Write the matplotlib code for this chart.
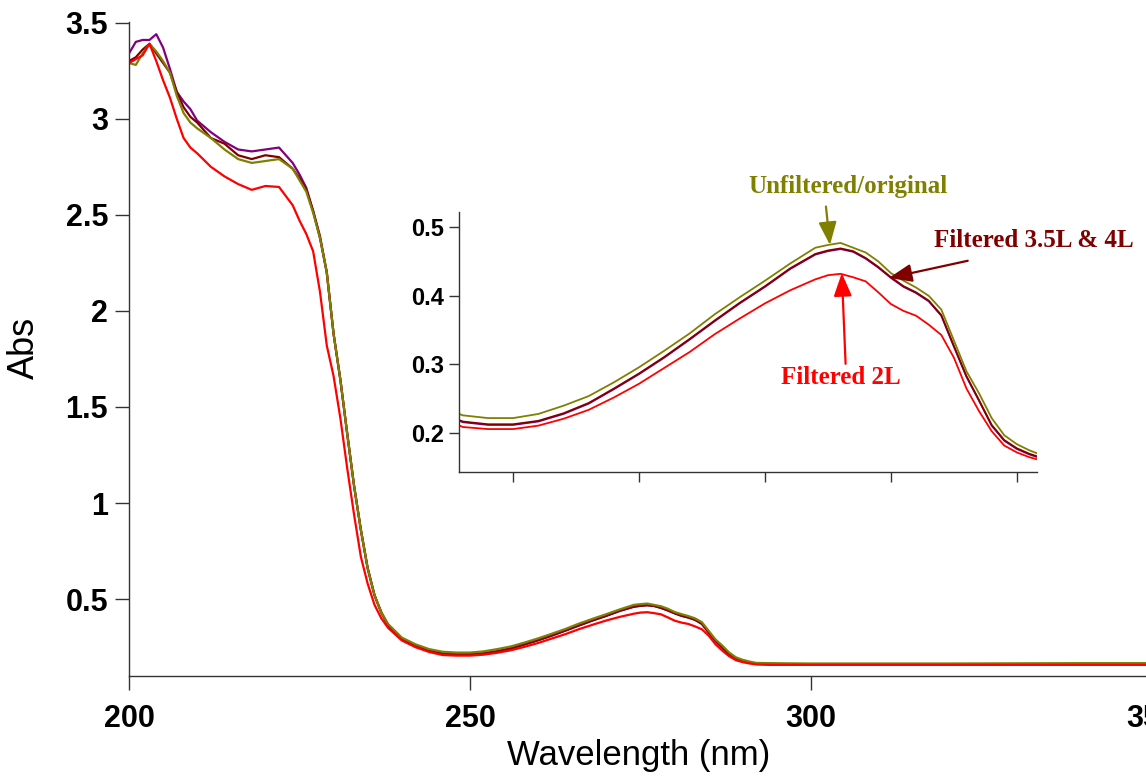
import matplotlib
matplotlib.use("Agg")
import matplotlib.pyplot as plt

# wavelength grid (nm)
wl = [200, 201, 202, 203, 204, 205, 206, 207, 208, 209, 210, 212, 214, 216, 218,
      220, 222, 224, 225, 226, 227, 228, 229, 230, 231, 232, 233, 234, 235, 236,
      237, 238, 240, 242, 244, 246, 248, 250, 252, 254, 256, 258, 260, 262, 264,
      266, 268, 270, 272, 274, 275, 276, 277, 278, 279, 280, 281, 282, 283, 284,
      285, 286, 287, 288, 289, 290, 291, 292, 294, 296, 300, 310, 320, 330, 340, 350]

# Unfiltered / original (olive)
abs_orig = [3.29, 3.28, 3.34, 3.39, 3.35, 3.30, 3.24, 3.12, 3.03, 2.98, 2.95, 2.90, 2.84, 2.79, 2.77,
            2.78, 2.79, 2.74, 2.68, 2.62, 2.51, 2.38, 2.20, 1.88, 1.64, 1.36, 1.09, 0.86, 0.66, 0.52,
            0.43, 0.37, 0.30, 0.265, 0.240, 0.226, 0.222, 0.222, 0.228, 0.240, 0.254, 0.274, 0.296, 0.320, 0.345,
            0.373, 0.398, 0.422, 0.447, 0.470, 0.474, 0.477, 0.470, 0.463, 0.450, 0.433, 0.422, 0.412, 0.400, 0.380,
            0.335, 0.290, 0.258, 0.222, 0.197, 0.184, 0.175, 0.168, 0.167, 0.166, 0.165, 0.165, 0.165, 0.166, 0.167, 0.167]

# Filtered 3.5L (maroon)
abs_35 = [3.30, 3.32, 3.36, 3.39, 3.34, 3.29, 3.24, 3.14, 3.06, 3.01, 2.98, 2.90, 2.87, 2.81, 2.79,
          2.81, 2.80, 2.74, 2.69, 2.63, 2.52, 2.38, 2.20, 1.88, 1.64, 1.36, 1.09, 0.86, 0.66, 0.52,
          0.43, 0.365, 0.295, 0.258, 0.232, 0.217, 0.213, 0.213, 0.218, 0.229, 0.244, 0.265, 0.287, 0.311, 0.337,
          0.364, 0.390, 0.414, 0.440, 0.461, 0.466, 0.469, 0.465, 0.455, 0.442, 0.427, 0.414, 0.405, 0.393, 0.372,
          0.327, 0.283, 0.248, 0.212, 0.190, 0.178, 0.170, 0.164, 0.162, 0.162, 0.162, 0.162, 0.162, 0.162, 0.162, 0.162]

# Filtered 4L (purple)
abs_4 = [3.34, 3.40, 3.41, 3.41, 3.44, 3.37, 3.26, 3.14, 3.09, 3.05, 2.99, 2.93, 2.88, 2.84, 2.83,
         2.84, 2.85, 2.77, 2.71, 2.64, 2.52, 2.39, 2.20, 1.88, 1.64, 1.36, 1.09, 0.86, 0.66, 0.52,
         0.43, 0.365, 0.295, 0.258, 0.232, 0.216, 0.212, 0.212, 0.217, 0.228, 0.243, 0.264, 0.286, 0.310, 0.336,
         0.363, 0.389, 0.413, 0.439, 0.460, 0.465, 0.468, 0.464, 0.454, 0.441, 0.426, 0.413, 0.404, 0.392, 0.371,
         0.326, 0.282, 0.247, 0.211, 0.189, 0.177, 0.169, 0.163, 0.161, 0.161, 0.161, 0.161, 0.161, 0.161, 0.161, 0.161]

# Filtered 2L (red)
abs_2 = [3.29, 3.31, 3.33, 3.39, 3.30, 3.20, 3.11, 3.00, 2.90, 2.85, 2.82, 2.75, 2.70, 2.66, 2.63,
         2.65, 2.645, 2.55, 2.47, 2.40, 2.31, 2.10, 1.82, 1.66, 1.44, 1.18, 0.94, 0.72, 0.58, 0.47,
         0.40, 0.35, 0.285, 0.250, 0.225, 0.209, 0.206, 0.206, 0.211, 0.221, 0.234, 0.252, 0.272, 0.295, 0.318,
         0.344, 0.367, 0.389, 0.408, 0.424, 0.430, 0.432, 0.427, 0.421, 0.405, 0.388, 0.378, 0.371, 0.358, 0.343,
         0.310, 0.265, 0.232, 0.203, 0.182, 0.172, 0.165, 0.160, 0.158, 0.158, 0.158, 0.158, 0.158, 0.158, 0.158, 0.158]

x_ticks = [200, 250, 300, 350]
y_ticks = [0.5, 1, 1.5, 2, 2.5, 3, 3.5]
y_tick_labels = ["0.5", "1", "1.5", "2", "2.5", "3", "3.5"]
inset_x_ticks = [250, 260, 270, 280, 290]
inset_y_ticks = [0.2, 0.3, 0.4, 0.5]
inset_y_labels = ["0.2", "0.3", "0.4", "0.5"]

series = [
    (abs_4, "#800080"),
    (abs_35, "#800000"),
    (abs_orig, "#808000"),
    (abs_2, "#ff0000"),
]

plt.rcParams['font.family'] = ['Liberation Sans', 'DejaVu Sans']

fig = plt.figure(figsize=(11.46, 7.8), dpi=100)
W, H = 1146, 780

def px_axes(l, t, r, b):
    return [l / W, 1 - b / H, (r - l) / W, (b - t) / H]

# main axes (right edge runs just past the figure so "350" gets cut)
ax = fig.add_axes(px_axes(129, 21.7, 1152, 676))
for vals, col in series:
    ax.plot(wl, vals, color=col, lw=1.6)
ax.set_xlim(200, 350)
ax.set_ylim(0.1, 3.505)
ax.set_xticks(x_ticks)
ax.set_xticklabels([str(v) for v in x_ticks])
ax.set_yticks(y_ticks)
ax.set_yticklabels(y_tick_labels)
for s in ["top", "right"]:
    ax.spines[s].set_visible(False)
for s in ["left", "bottom"]:
    ax.spines[s].set_color("#333333")
    ax.spines[s].set_linewidth(1.0)
ax.tick_params(axis="both", direction="out", length=10, width=1, color="#333333")
ax.tick_params(axis="y", pad=5)
ax.tick_params(axis="x", pad=10)
for lab in ax.get_xticklabels() + ax.get_yticklabels():
    lab.set_fontsize(22)
    lab.set_fontweight("bold")

fig.text(639 / W, 1 - 765 / H, "Wavelength (nm)", ha="center", va="baseline", fontsize=25)
fig.text(24 / W, 1 - 348 / H, "Abs", ha="center", va="center", rotation=90, fontsize=26)

# inset
ins = fig.add_axes(px_axes(459, 212, 1037, 472))
for vals, col in series:
    ins.plot(wl, vals, color=col, lw=1.3)
ins.set_xlim(245.7, 291.6)
ins.set_ylim(0.1435, 0.522)
ins.set_xticks(inset_x_ticks)
ins.set_xticklabels([])
ins.set_yticks(inset_y_ticks)
ins.set_yticklabels(inset_y_labels)
for s in ["top", "right"]:
    ins.spines[s].set_visible(False)
for s in ["left", "bottom"]:
    ins.spines[s].set_color("#333333")
    ins.spines[s].set_linewidth(1.0)
ins.tick_params(axis="both", direction="out", length=7, width=1, color="#333333")
ins.tick_params(axis="y", pad=4)
for lab in ins.get_yticklabels():
    lab.set_fontsize(17)
    lab.set_fontweight("bold")

serif = ['Liberation Serif', 'DejaVu Serif']
ins.text(276.6, 0.559, "Unfiltered/original", color="#808000", fontsize=18,
         fontweight="bold", family=serif, ha="center", va="center", clip_on=False)
ins.text(291.35, 0.480, "Filtered 3.5L & 4L", color="#800000", fontsize=18,
         fontweight="bold", family=serif, ha="center", va="center", clip_on=False)
ins.text(276.0, 0.281, "Filtered 2L", color="#ff0000", fontsize=18,
         fontweight="bold", family=serif, ha="center", va="center")

arrows = [
    ((275.16, 0.474), (274.84, 0.530), "#808000"),
    ((279.84, 0.426), (286.1, 0.451), "#800000"),
    ((276.1, 0.433), (276.4, 0.301), "#ff0000"),
]
for tip, tail, col in arrows:
    ins.annotate("", xy=tip, xytext=tail, annotation_clip=False,
                 arrowprops=dict(arrowstyle="-|>,head_length=1.4,head_width=0.55",
                                 color=col, lw=1.6, shrinkA=0, shrinkB=0))

fig.savefig("out.png", dpi=100)
